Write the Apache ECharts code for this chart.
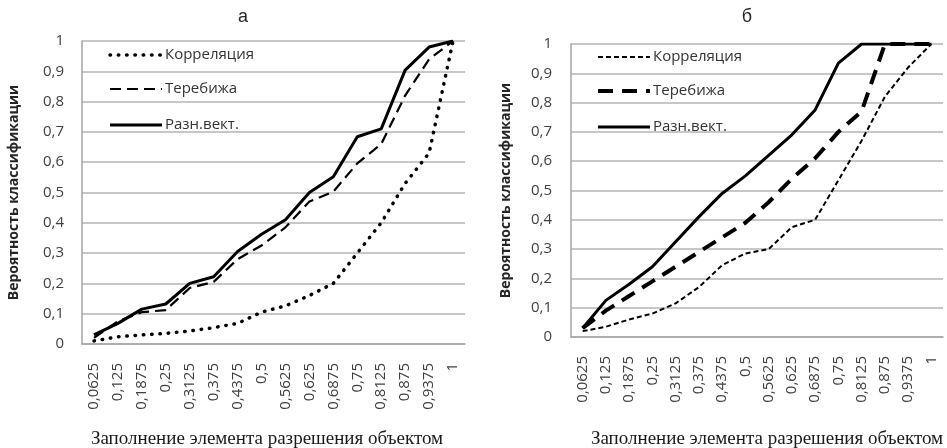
<!DOCTYPE html>
<html>
<head>
<meta charset="utf-8">
<script src="https://cdn.jsdelivr.net/npm/echarts@6/dist/echarts.min.js"></script>
<style>
html,body{margin:0;padding:0;background:#fff;}
#c{width:947px;height:448px;}
</style>
</head>
<body>
<div id="c"></div>
<script>
// categories (fill of resolution element)
const categories = ['0,0625','0,125','0,1875','0,25','0,3125','0,375','0,4375','0,5','0,5625','0,625','0,6875','0,75','0,8125','0,875','0,9375','1'];
const seriesNames = ['Корреляция','Теребижа','Разн.вект.'];
// panel а
const corrA  = [0.01,0.024,0.03,0.035,0.043,0.054,0.068,0.105,0.126,0.16,0.2,0.3,0.4,0.53,0.63,1.0];
const terebA = [0.02,0.075,0.105,0.112,0.185,0.205,0.28,0.325,0.385,0.47,0.503,0.596,0.66,0.82,0.94,1.0];
const diffA  = [0.03,0.068,0.115,0.132,0.2,0.222,0.305,0.362,0.41,0.5,0.552,0.684,0.71,0.904,0.98,1.0];
// panel б
const corrB  = [0.02,0.035,0.06,0.08,0.115,0.17,0.245,0.285,0.3,0.375,0.4,0.535,0.67,0.82,0.92,1.0];
const terebB = [0.03,0.09,0.14,0.19,0.24,0.29,0.34,0.39,0.46,0.54,0.61,0.70,0.77,1.0,1.0,1.0];
const diffB  = [0.03,0.125,0.18,0.24,0.325,0.41,0.49,0.55,0.62,0.69,0.775,0.935,1.0,1.0,1.0,1.0];
const panelTitles = ['а','б'];
const xName = 'Заполнение элемента разрешения объектом';
const yName = 'Вероятность классификации';

const chart = echarts.init(document.getElementById('c'), null, {renderer:'canvas'});
const lblFont = '"Open Sans", sans-serif';
const lblColor = '#404040';
const gridColor = '#b4b4b4';

function xAxisCfg(gi, margin){
  return {
    type:'category', gridIndex:gi, data:categories, boundaryGap:true,
    axisLine:{show:true, lineStyle:{color:'#a6a6a6', width:1.5}},
    axisTick:{show:false},
    axisLabel:{rotate:90, interval:0, margin:margin, color:lblColor, fontFamily:lblFont, fontSize:15}
  };
}
function yAxisCfg(gi, gap, margin){
  return {
    type:'value', gridIndex:gi, min:0, max:1, interval:0.1,
    name:yName, nameLocation:'middle', nameRotate:90, nameGap:gap,
    nameTextStyle:{fontFamily:lblFont, fontWeight:'bold', fontSize:14, color:'#262626'},
    axisLine:{show:true, lineStyle:{color:'#a6a6a6', width:1.5}},
    axisTick:{show:false},
    splitLine:{show:true, lineStyle:{color:gridColor, width:1.5}},
    axisLabel:{margin:margin, color:lblColor, fontFamily:lblFont, fontSize:15,
      formatter:v=>String(+v.toFixed(1)).replace('.',',')}
  };
}
function line(name, data, gi, style){
  return {name, type:'line', xAxisIndex:gi, yAxisIndex:gi, data, symbol:'none', silent:true,
    lineStyle:Object.assign({color:'#000'}, style), z:3};
}
const stA = [
  {width:3.5, type:[0.5,7.8], cap:'round'},
  {width:2.2, type:[11,6]},
  {width:3}
];
const stB = [
  {width:2, type:[5,3]},
  {width:4, type:[15,9]},
  {width:3}
];

function legendGraphics(x0, ys, styles){
  const els = [];
  ys.forEach((y,i)=>{
    const s = styles[i];
    els.push({type:'line', shape:{x1:x0, y1:y, x2:x0+52, y2:y},
      style:{stroke:'#000', lineWidth:s.width, lineDash:s.type||null, lineCap:s.cap||'butt'}});
    els.push({type:'text', x:x0+55, y:y, style:{text:seriesNames[i], fill:'#333', font:'15px "Open Sans", sans-serif', textVerticalAlign:'middle'}});
  });
  return els;
}

const option = {
  animation:false,
  backgroundColor:'#fff',
  title:[
    {text:panelTitles[0], left:238, top:3, textAlign:'center', textStyle:{fontFamily:'"Liberation Sans", sans-serif', fontWeight:'normal', fontSize:18, color:'#262626'}},
    {text:panelTitles[1], left:742, top:3, textAlign:'center', textStyle:{fontFamily:'"Liberation Sans", sans-serif', fontWeight:'normal', fontSize:18, color:'#262626'}},
    {text:xName, left:262, top:425, textAlign:'center', textStyle:{fontFamily:'"Liberation Serif", serif', fontWeight:'normal', fontSize:19, color:'#1a1a1a'}},
    {text:xName, left:762, top:425, textAlign:'center', textStyle:{fontFamily:'"Liberation Serif", serif', fontWeight:'normal', fontSize:19, color:'#1a1a1a'}}
  ],
  grid:[
    {left:82, top:41, width:383, height:303},
    {left:571, top:44, width:372, height:293}
  ],
  xAxis:[xAxisCfg(0,19), xAxisCfg(1,19)],
  yAxis:[yAxisCfg(0,61,18), yAxisCfg(1,58,19)],
  series:[
    line(seriesNames[0], corrA, 0, stA[0]),
    line(seriesNames[1], terebA, 0, stA[1]),
    line(seriesNames[2], diffA, 0, stA[2]),
    line(seriesNames[0], corrB, 1, stB[0]),
    line(seriesNames[1], terebB, 1, stB[1]),
    line(seriesNames[2], diffB, 1, stB[2])
  ],
  graphic:[].concat(legendGraphics(110,[55,89,125],stA), legendGraphics(598,[57,91,127],stB))
};
chart.setOption(option);
</script>
</body>
</html>
